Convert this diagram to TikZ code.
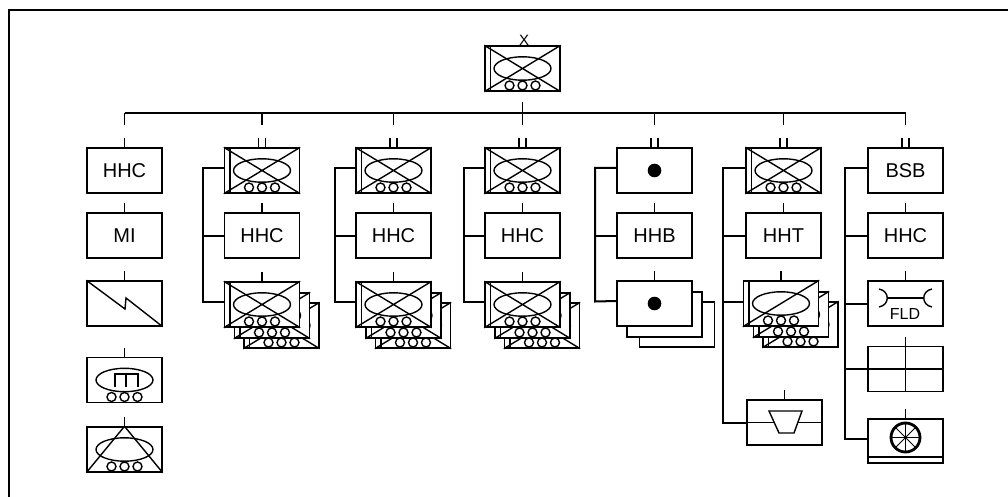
\documentclass[tikz,border=0pt]{standalone}
\usepackage{fontspec}
\setmainfont{Liberation Sans}
\usetikzlibrary{calc}
\tikzset{
  unitbox/.style={draw,line width=1.4pt,fill=white,minimum width=75pt,minimum height=45pt,inner sep=0pt,font=\fontsize{20}{24}\selectfont},
  sym/.style={line width=1.4pt},
  spine/.style={line width=2pt,line join=miter},
  tick/.style={line width=1.4pt},
  frameline/.style={line width=1.6pt}
}
% parts of the symbols, drawn from the centre of a box
\newcommand{\tankbody}[1]{
  \draw[sym] (#1.center) ellipse [x radius=28.5,y radius=11.7];
  \foreach \dx in {-13,0,13}
    \draw[sym,fill=white] ($(#1.center)+(\dx,17)$) circle (4.5);
}
\newcommand{\armd}[1]{
  \draw[sym] (#1.north west) -- (#1.south east) (#1.south west) -- (#1.north east);
  \draw[sym] ($(#1.north west)+(6,0)$) -- ($(#1.south west)+(6,0)$);
  \tankbody{#1}
}
\newcommand{\armdcav}[1]{
  \draw[sym] (#1.south west) -- (#1.north east);
  \draw[sym] ($(#1.north west)+(6,0)$) -- ($(#1.south west)+(6,0)$);
  \tankbody{#1}
}
\newcommand{\onetick}[1]{\draw[tick] (#1.north) -- ++(0,-9);}
\newcommand{\twotick}[1]{
  \draw[tick] ($(#1.north)+(-3.5,0)$) -- ++(0,-9);
  \draw[tick] ($(#1.north)+(3.5,0)$) -- ++(0,-9);
}
\newcommand{\armdstack}[3]{
  \node[unitbox] (#1c) at ($(#2,#3)+(19.5,21)$) {}; \armd{#1c}
  \node[unitbox] (#1b) at ($(#2,#3)+(10,11)$) {}; \armd{#1b}
  \node[unitbox] (#1) at (#2,#3) {}; \armd{#1}
  \onetick{#1}
}
\begin{document}
\begin{tikzpicture}[x=1pt,y=-1pt]
\useasboundingbox (0,0) rectangle (1008,497);
\draw[frameline] (1008,10) -- (9,10);
\draw[line width=2.5pt] (9,9.2) -- (9,497);
% top of the tree
\node[font=\fontsize{15}{18}\selectfont,inner sep=0pt] (xmark) at (524,40) {X};
\node[unitbox] (hq) at (522.5,68.5) {}; \armd{hq}
\coordinate (busL) at (124.5,113);
\coordinate (busR) at (905.5,113);
\coordinate (hqtick) at (522.5,102);
\draw[tick] (busL) -- (busR);
\draw[tick] (hqtick) -- (hqtick |- busL) -- ++(0,12);
% first column
\node[unitbox] (hhcOne) at (124.5,170.5) {HHC};
\node[unitbox] (miOne) at (124.5,235.5) {MI};
\node[unitbox] (sigOne) at (124.5,303.5) {};
\node[unitbox] (tankOne) at (124.5,380) {};
\node[unitbox] (adaOne) at (124.5,449.5) {};
\foreach \n in {hhcOne,miOne,sigOne,tankOne,adaOne} {\onetick{\n}}
\draw[sym] (sigOne.north west) -- (125,309) -- (126,298) -- (sigOne.south east);
\tankbody{tankOne}
\draw[sym] (115,387) -- (115,374) -- (138,374) -- (138,387) (126,374) -- (126,387);
\draw[sym] (adaOne.south west) -- (adaOne.north) -- (adaOne.south east);
\tankbody{adaOne}
% second, third and fourth column
\node[unitbox] (bnA) at (262,170.5) {}; \armd{bnA} \twotick{bnA}
\node[unitbox] (hhcA) at (262,235.5) {HHC}; \onetick{hhcA}
\armdstack{coA}{262}{304.5}
\node[unitbox] (bnB) at (393.5,170.5) {}; \armd{bnB} \twotick{bnB}
\node[unitbox] (hhcB) at (393.5,235.5) {HHC}; \onetick{hhcB}
\armdstack{coB}{393.5}{304.5}
\node[unitbox] (bnC) at (522.5,170.5) {}; \armd{bnC} \twotick{bnC}
\node[unitbox] (hhcC) at (522.5,235.5) {HHC}; \onetick{hhcC}
\armdstack{coC}{522.5}{304.5}
% fifth column
\node[unitbox] (artD) at (654.5,170.5) {}; \twotick{artD}
\fill (artD.center) circle (6.8);
\node[unitbox] (hhbD) at (654.5,235.5) {HHB}; \onetick{hhbD}
\node[unitbox] (btyDc) at (677,324.5) {};
\node[unitbox] (btyDb) at (664.5,314.5) {};
\node[unitbox] (btyD) at (654.5,303.5) {}; \onetick{btyD}
\fill (btyD.center) circle (6.8);
% sixth column
\node[unitbox] (bnE) at (783.5,170.5) {}; \armd{bnE} \twotick{bnE}
\node[unitbox] (hhtE) at (783.5,235.5) {HHT}; \onetick{hhtE}
\node[unitbox] (cavEc) at (800.5,324.5) {}; \armdcav{cavEc}
\node[unitbox] (cavEb) at (791,314.5) {}; \armdcav{cavEb}
\node[unitbox] (cavE) at (781,303.5) {}; \armdcav{cavE} \onetick{cavE}
\node[unitbox] (engE) at (784.5,422.5) {}; \onetick{engE}
\draw[sym] (engE.west) -- (engE.east);
\draw[sym,fill=white] (769,411) -- (802,411) -- (794,433) -- (779,433) -- cycle;
% seventh column
\node[unitbox] (bsbF) at (905.5,170.5) {BSB}; \twotick{bsbF}
\node[unitbox] (hhcF) at (905.5,235.5) {HHC}; \onetick{hhcF}
\node[unitbox] (fldF) at (905.5,303.5) {}; \onetick{fldF}
\draw[sym] (879,289) .. controls (890,291) and (890,305) .. (879,307);
\draw[sym] (932,289) .. controls (921,291) and (921,305) .. (932,307);
\draw[sym] (888,298) -- (923,298);
\node[font=\fontsize{16}{18}\selectfont,inner sep=0pt] (fldtext) at (905,314) {FLD};
\node[unitbox] (splF) at (905.5,369) {}; \onetick{splF}
\draw[sym] (splF.north) -- (splF.south) (splF.west) -- (splF.east);
\node[unitbox,minimum height=44pt] (mntF) at (905.5,441) {}; \onetick{mntF}
\draw[sym] (mntF.west |- 0,457) -- (mntF.east |- 0,457);
\draw[line width=2.8pt] (905.5,437.5) circle (14.5);
\foreach \a in {0,45,90,135}
  \draw[line width=1pt] ($(905.5,437.5)+(\a:14.5)$) -- ($(905.5,437.5)+(\a+180:14.5)$);
% side lines of the columns
\coordinate (spineA) at (203,301.5);
\coordinate (spineB) at (335,301.5);
\coordinate (spineC) at (464,301.5);
\coordinate (spineD) at (595,301.5);
\coordinate (spineE) at (722.5,422.5);
\coordinate (spineF) at (845,439);
\draw[spine] ([yshift=2.5pt]bnA.west) -| (spineA) -- ([yshift=3pt]coA.west);
\draw[spine] (hhcA.west) -- (spineA |- hhcA.west);
\draw[spine] ([yshift=2.5pt]bnB.west) -| (spineB) -- ([yshift=3pt]coB.west);
\draw[spine] (hhcB.west) -- (spineB |- hhcB.west);
\draw[spine] ([yshift=2.5pt]bnC.west) -| (spineC) -- ([yshift=3pt]coC.west);
\draw[spine] (hhcC.west) -- (spineC |- hhcC.west);
\draw[spine] ([yshift=2.5pt]artD.west) -| (spineD) -- ([yshift=2.5pt]btyD.west);
\draw[spine] (hhbD.west) -- (spineD |- hhbD.west);
\draw[spine] ([yshift=2.5pt]bnE.west) -| (spineE) -- (engE.west);
\draw[spine] (hhtE.west) -- (spineE |- hhtE.west);
\draw[spine] ([yshift=1.5pt]cavE.west) -- (spineE |- 0,302);
\draw[spine] ([yshift=2.5pt]bsbF.west) -| (spineF) -- ([yshift=2pt]mntF.west);
\draw[spine] (hhcF.west) -- (spineF |- hhcF.west);
\draw[spine] (fldF.west) -- (spineF |- fldF.west);
\draw[spine] (splF.west) -- (spineF |- splF.west);
% drops from the long line
\foreach \n in {hhcOne,bnA,bnB,bnC,artD,bnE,bsbF}
  \draw[tick] (\n.north |- busL) -- ++(0,12);
\end{tikzpicture}
\end{document}
